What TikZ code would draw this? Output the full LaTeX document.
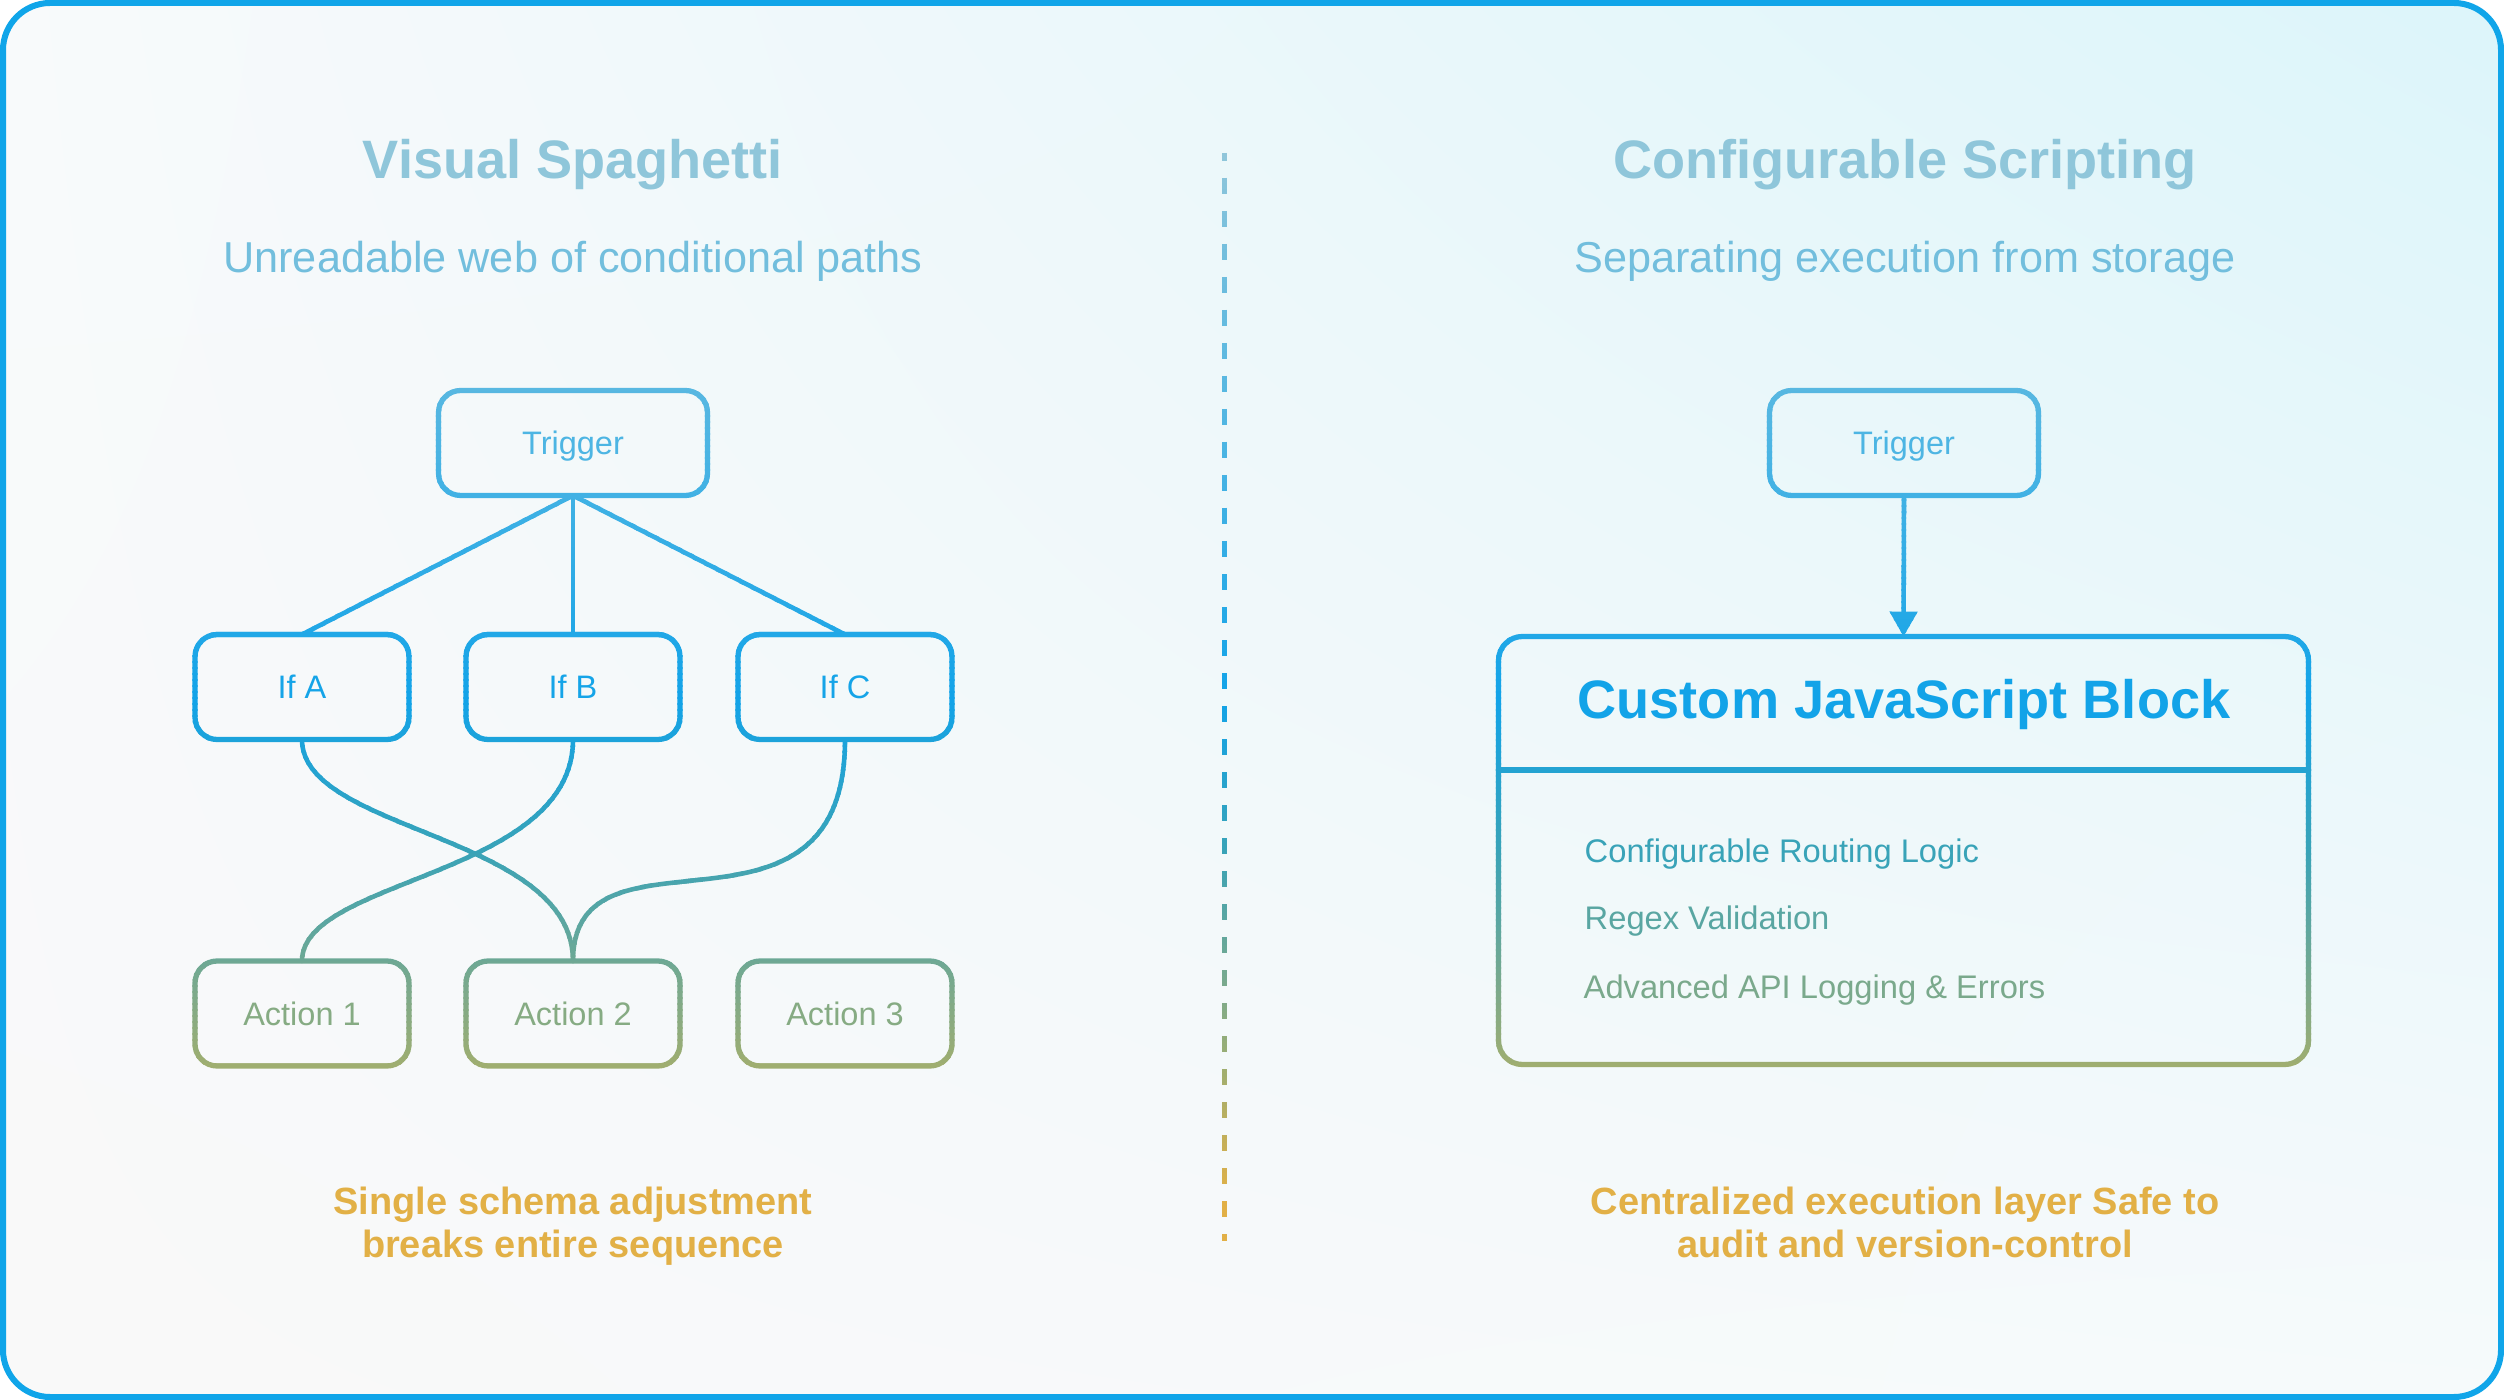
\documentclass[tikz,border=0pt]{standalone}
\usepackage{fontspec}
\setmainfont{Liberation Sans}
\usetikzlibrary{arrows.meta,shadings}
\definecolor{g0}{HTML}{92C7DA}
\definecolor{g1}{HTML}{72BEDD}
\definecolor{g2}{HTML}{4DB5E3}
\definecolor{g3}{HTML}{12A3E8}
\definecolor{g4}{HTML}{38A3B8}
\definecolor{g5}{HTML}{80AA88}
\definecolor{g6}{HTML}{A0AE6F}
\definecolor{g7}{HTML}{E2B046}
\definecolor{framec}{HTML}{10A5E9}
\definecolor{bgA}{HTML}{F8FAFB}
\definecolor{bgB}{HTML}{DCF5FA}
\definecolor{bgC}{HTML}{F9F9F9}
\definecolor{bgD}{HTML}{F6FAFB}
\newcommand\gseg[6]{%
  \pgfmathsetmacro\gp{max(0,min(100,100*((#3-#1)/(#3-#2))))}%
  \colorlet{#6}{#4!\gp!#5}}
\newcommand\setgrad[2]{%
  \pgfmathsetmacro\gy{#1}%
  \ifdim\gy pt<257pt \gseg{\gy}{150}{257}{g0}{g1}{#2}%
  \else\ifdim\gy pt<443pt \gseg{\gy}{257}{443}{g1}{g2}{#2}%
  \else\ifdim\gy pt<700pt \gseg{\gy}{443}{700}{g2}{g3}{#2}%
  \else\ifdim\gy pt<850pt \gseg{\gy}{700}{850}{g3}{g4}{#2}%
  \else\ifdim\gy pt<1000pt \gseg{\gy}{850}{1000}{g4}{g5}{#2}%
  \else\ifdim\gy pt<1070pt \gseg{\gy}{1000}{1070}{g5}{g6}{#2}%
  \else \gseg{\gy}{1070}{1200}{g6}{g7}{#2}%
  \fi\fi\fi\fi\fi\fi}
\begin{document}
\begin{tikzpicture}[x=0.1mm, y=-0.1mm,
  boxnode/.style={minimum width=21.4mm, minimum height=10.5mm, inner sep=0pt, outer sep=0pt,
    font=\fontsize{9.25pt}{11pt}\selectfont, text height=6.62pt, text depth=0pt},
  trignode/.style={boxnode, minimum width=26.9mm},
  titlefont/.style={font=\fontsize{15.4pt}{18pt}\selectfont\bfseries, inner sep=0pt, anchor=base},
  subfont/.style={font=\fontsize{12.3pt}{15pt}\selectfont, inner sep=0pt, anchor=base},
  listfont/.style={font=\fontsize{9.3pt}{11pt}\selectfont, inner sep=0pt, anchor=base west},
  notefont/.style={font=\fontsize{10.8pt}{12.23pt}\selectfont\bfseries, inner sep=0pt, anchor=north, align=center, text=g7},
  boxline/.style={line width=1.5pt, line cap=round, line join=round},
  linkline/.style={line width=1.3pt, line cap=round, line join=round},
  smallr/.style={rounded corners=6.3pt},
  bigr/.style={rounded corners=6.8pt}]
\useasboundingbox (0,0) rectangle (2504,1400);
% background and frame
\shade[upper left=bgA, upper right=bgB, lower left=bgC, lower right=bgD, rounded corners=13.4pt]
  (3,3) rectangle (2501,1397);
\draw[framec, line width=1.71pt, rounded corners=13.4pt] (3,3) rectangle (2501,1397);

% titles
\setgrad{160}{ctitle}
\setgrad{257}{csub}
\node[titlefont, text=ctitle] (tl) at (573,179) {Visual Spaghetti};
\node[subfont, text=csub] (sl) at (573,272.5) {Unreadable web of conditional paths};
\node[titlefont, text=ctitle] (tr) at (1905,179) {Configurable Scripting};
\node[subfont, text=csub] (sr) at (1905,272.5) {Separating execution from storage};

% nodes
\setgrad{443}{ctrig}
\setgrad{687}{cif}
\setgrad{1013}{cact}
\node[trignode, text=ctrig] (trigL) at (573,443) {Trigger};
\node[trignode, text=ctrig] (trigR) at (1904,443) {Trigger};
\node[boxnode, text=cif] (ifA) at (302,687) {If A};
\node[boxnode, text=cif] (ifB) at (573,687) {If B};
\node[boxnode, text=cif] (ifC) at (845,687) {If C};
\node[boxnode, text=cact] (act1) at (302,1013.5) {Action 1};
\node[boxnode, text=cact] (act2) at (573,1013.5) {Action 2};
\node[boxnode, text=cact] (act3) at (845,1013.5) {Action 3};
\node[minimum width=81mm, minimum height=42.8mm, inner sep=0pt, outer sep=0pt] (js) at (1903.5,850.5) {};
\coordinate (divy) at (0,770);
\setgrad{700}{cjs}
\node[titlefont, text=cjs] (jst) at (1904,719) {Custom JavaScript Block};
\setgrad{851}{cl1}
\setgrad{918}{cl2}
\setgrad{987}{cl3}
\node[listfont, text=cl1] (l1) at (1584,862.6) {Configurable Routing Logic};
\node[listfont, text=cl2] (l2) at (1584,929.6) {Regex Validation};
\node[listfont, text=cl3] (l3) at (1583,998.6) {Advanced API Logging \& Errors};

% notes
\node[notefont] (nl) at (573,1186) {Single schema adjustment\\breaks entire sequence};
\node[notefont] (nr) at (1905,1186) {Centralized execution layer Safe to\\audit and version-control};

% gradient strokes (drawn band by band)
\foreach \yb in {380,386,...,1074}{
  \begin{scope}
    \clip (0,\yb-0.5) rectangle (2504,\yb+6.5);
    \setgrad{\yb+3}{bandc}
    \begin{scope}[color=bandc]
      \begin{scope}[linkline]
        \draw (trigL.south) -- (ifA.north);
        \draw (trigL.south) -- (ifB.north);
        \draw (trigL.south) -- (ifC.north);
        \draw (ifA.south) .. controls +(0,93) and +(0,-127) .. (act2.north);
        \draw (ifB.south) .. controls +(0,137) and +(0,-83) .. (act1.north);
        \draw (ifC.south) .. controls +(0,227) and +(0,-151) .. (act2.north);
        \draw[line cap=butt, -{Triangle[length=7.1pt,width=7.7pt]}] (trigR.south) -- (js.north);
      \end{scope}
      \begin{scope}[boxline]
        \draw[smallr] (trigL.south west) rectangle (trigL.north east);
        \draw[smallr] (trigR.south west) rectangle (trigR.north east);
        \draw[smallr] (ifA.south west) rectangle (ifA.north east);
        \draw[smallr] (ifB.south west) rectangle (ifB.north east);
        \draw[smallr] (ifC.south west) rectangle (ifC.north east);
        \draw[smallr] (act1.south west) rectangle (act1.north east);
        \draw[smallr] (act2.south west) rectangle (act2.north east);
        \draw[smallr] (act3.south west) rectangle (act3.north east);
        \draw[bigr] (js.south west) rectangle (js.north east);
        \draw (js.west |- divy) -- (js.east |- divy);
      \end{scope}
    \end{scope}
  \end{scope}
}

% dashed divider
\coordinate (dtop) at (1224.5,153);
\coordinate (dbot) at (1224.5,1241);
\foreach \yb in {148,154,...,1246}{
  \begin{scope}
    \clip (1200,\yb-0.5) rectangle (1250,\yb+6.5);
    \setgrad{\yb+3}{bandc}
    \draw[bandc, line width=1.42pt, dash pattern=on 4.64pt off 4.75pt, dash phase=2.28pt] (dtop) -- (dbot);
  \end{scope}
}
\end{tikzpicture}
\end{document}
